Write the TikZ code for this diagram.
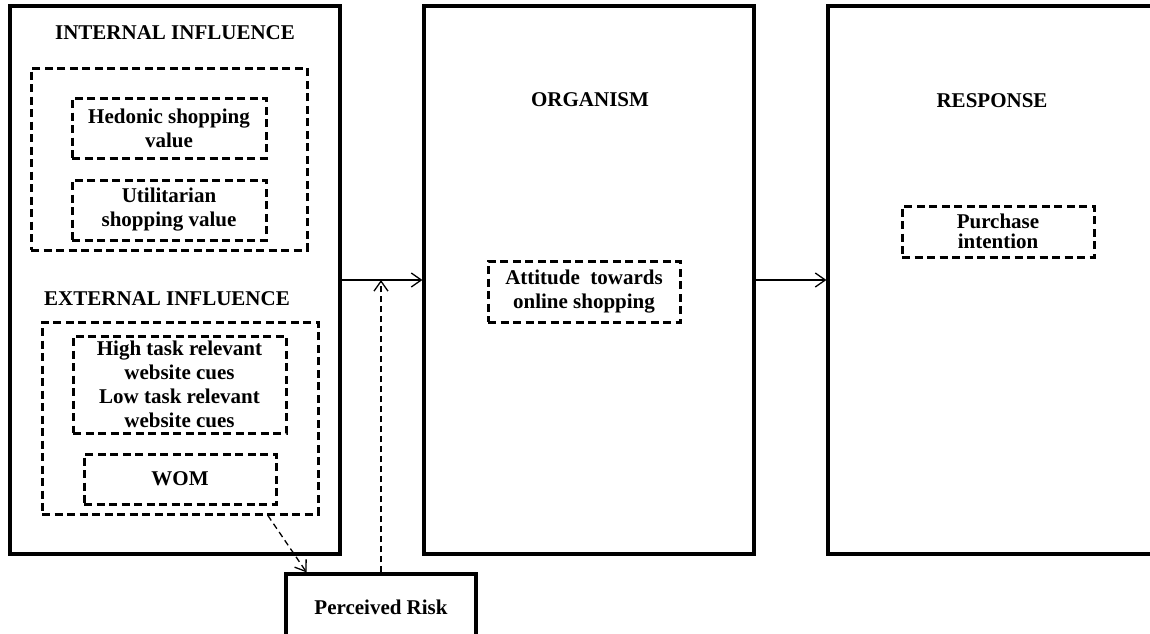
\documentclass[tikz,border=0pt]{standalone}
\usepackage{fontspec}
\setmainfont{Liberation Serif}
\usetikzlibrary{positioning,calc,arrows.meta}

\begin{document}
\begin{tikzpicture}[x=1pt, y=-1pt, font=\fontsize{21}{24}\selectfont\bfseries,
    stage/.style={draw, line width=3.2pt, minimum width=330pt, minimum height=548pt},
    group/.style={draw, line width=3pt, dash pattern=on 8pt off 4.5pt, align=center, inner sep=0pt},
    link/.style={line width=1.3pt, -{Straight Barb[length=10pt,width=14pt]}}]
    \useasboundingbox (0,0) rectangle (1150,633);
    % the three stages
    \node[stage] (stim) at (175,280) {};
    \node[stage] (org) at (589,280) {};
    \node[stage] (resp) at (993,280) {};
    \node[stage, minimum width=190pt, minimum height=66pt] (risk) at (381,607) {Perceived Risk};

    \foreach \n/\x/\y/\t in {intTitle/175/33/INTERNAL INFLUENCE, extTitle/167/299/EXTERNAL INFLUENCE, orgTitle/590/100/ORGANISM, respTitle/992/101/RESPONSE} {
        \node (\n) at (\x,\y) {\t};
    }

    % stimulus groups
    \node[group, minimum width=276pt, minimum height=182pt] (int) at (169,159) {};
    \node[group, minimum width=194pt, minimum height=60pt] (hedonic) at (169,128) {Hedonic shopping\\value};
    \node[group, minimum width=194pt, minimum height=60pt] (util) at (169,210) {Utilitarian\\shopping value};
    \node[group, minimum width=276pt, minimum height=192pt] (ext) at (180,418) {};
    \node[group, minimum width=213pt, minimum height=97pt] (cues) at (179.5,384.5) {High task relevant\\website cues\\Low task relevant\\website cues};
    \node[group, minimum width=192pt, minimum height=50pt] (wom) at (180,479) {WOM};

    % organism and response
    \node[group, minimum width=192pt, minimum height=61pt] (attitude) at (584,291.5) {Attitude~ towards\\online shopping};
    \node[group, minimum width=192pt, minimum height=51pt, font=\fontsize{21}{20}\selectfont\bfseries] (intent) at (998,231.5) {Purchase\\intention};

    \draw[link] (stim.east) -- (org.west);
    \draw[link] (org.east) -- (resp.west);
    \draw[link, dash pattern=on 6pt off 4pt] (risk.north) -- (risk.north |- stim.east);
    \draw[link, dash pattern=on 6pt off 4pt] ($(ext.south west)!0.815!(ext.south east)$) -- ($(risk.north west)!0.115!(risk.north east)$);
\end{tikzpicture}
\end{document}
